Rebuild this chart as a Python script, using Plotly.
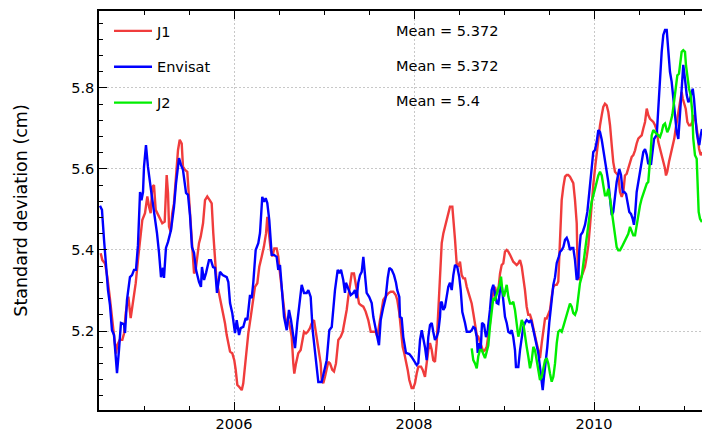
import plotly.graph_objects as go

# ---------------- data (decimal year, std dev in cm) ----------------
t_j1 = [2004.519,2004.537,2004.567,2004.592,2004.619,2004.641,2004.663,2004.689,2004.703,2004.730,2004.759,2004.778,2004.797,2004.826,2004.852,2004.870,2004.889,2004.908,2004.937,2004.963,2004.981,2005.011,2005.037,2005.056,2005.074,2005.092,2005.111,2005.130,2005.148,2005.174,2005.203,2005.230,2005.252,2005.267,2005.278,2005.297,2005.314,2005.333,2005.359,2005.378,2005.397,2005.419,2005.433,2005.456,2005.481,2005.500,2005.519,2005.537,2005.556,2005.574,2005.592,2005.611,2005.630,2005.656,2005.678,2005.703,2005.730,2005.752,2005.770,2005.789,2005.803,2005.826,2005.844,2005.863,2005.881,2005.900,2005.919,2005.937,2005.956,2005.981,2006.003,2006.019,2006.037,2006.059,2006.086,2006.103,2006.122,2006.141,2006.159,2006.186,2006.214,2006.233,2006.259,2006.281,2006.308,2006.333,2006.356,2006.370,2006.392,2006.408,2006.426,2006.448,2006.474,2006.492,2006.511,2006.530,2006.548,2006.567,2006.586,2006.603,2006.622,2006.641,2006.659,2006.670,2006.689,2006.714,2006.741,2006.763,2006.778,2006.800,2006.819,2006.844,2006.863,2006.889,2006.908,2006.926,2006.944,2006.963,2006.974,2006.992,2007.011,2007.030,2007.048,2007.067,2007.092,2007.111,2007.133,2007.159,2007.186,2007.208,2007.233,2007.252,2007.270,2007.289,2007.308,2007.333,2007.352,2007.370,2007.389,2007.408,2007.437,2007.463,2007.492,2007.519,2007.548,2007.574,2007.592,2007.614,2007.641,2007.659,2007.686,2007.714,2007.741,2007.770,2007.797,2007.814,2007.837,2007.856,2007.874,2007.892,2007.911,2007.930,2007.948,2007.974,2007.992,2008.011,2008.030,2008.048,2008.078,2008.097,2008.122,2008.141,2008.159,2008.178,2008.197,2008.214,2008.233,2008.252,2008.270,2008.289,2008.308,2008.326,2008.344,2008.363,2008.381,2008.400,2008.426,2008.437,2008.456,2008.474,2008.492,2008.511,2008.530,2008.548,2008.567,2008.586,2008.603,2008.622,2008.641,2008.659,2008.678,2008.697,2008.714,2008.733,2008.752,2008.770,2008.789,2008.808,2008.826,2008.844,2008.863,2008.881,2008.900,2008.919,2008.937,2008.956,2008.974,2008.992,2009.011,2009.030,2009.048,2009.067,2009.086,2009.103,2009.122,2009.141,2009.159,2009.178,2009.197,2009.214,2009.233,2009.252,2009.270,2009.289,2009.308,2009.326,2009.344,2009.363,2009.381,2009.400,2009.419,2009.437,2009.456,2009.474,2009.492,2009.511,2009.530,2009.548,2009.567,2009.586,2009.603,2009.622,2009.641,2009.659,2009.678,2009.697,2009.714,2009.733,2009.752,2009.770,2009.789,2009.808,2009.814,2009.826,2009.837,2009.852,2009.874,2009.900,2009.919,2009.937,2009.956,2009.974,2009.992,2010.011,2010.030,2010.048,2010.067,2010.086,2010.103,2010.122,2010.141,2010.159,2010.178,2010.197,2010.214,2010.233,2010.252,2010.270,2010.289,2010.308,2010.326,2010.344,2010.363,2010.381,2010.400,2010.419,2010.437,2010.456,2010.474,2010.492,2010.511,2010.530,2010.548,2010.567,2010.586,2010.603,2010.622,2010.641,2010.659,2010.678,2010.697,2010.714,2010.733,2010.752,2010.770,2010.789,2010.800,2010.814,2010.833,2010.852,2010.874,2010.892,2010.908,2010.926,2010.944,2010.963,2010.974,2010.986,2011.000,2011.019,2011.037,2011.056,2011.074,2011.092,2011.111,2011.130,2011.148,2011.167,2011.186,2011.200]
v_j1 = [5.392,5.375,5.367,5.334,5.285,5.235,5.194,5.144,5.165,5.178,5.178,5.194,5.244,5.285,5.232,5.260,5.285,5.318,5.384,5.441,5.474,5.491,5.532,5.507,5.491,5.556,5.560,5.499,5.491,5.483,5.466,5.470,5.585,5.540,5.458,5.445,5.491,5.515,5.589,5.647,5.672,5.663,5.606,5.598,5.593,5.523,5.458,5.400,5.342,5.351,5.384,5.417,5.433,5.466,5.523,5.532,5.523,5.515,5.441,5.375,5.334,5.301,5.281,5.269,5.244,5.219,5.190,5.170,5.149,5.145,5.128,5.104,5.067,5.062,5.054,5.071,5.112,5.161,5.194,5.235,5.285,5.309,5.318,5.359,5.384,5.409,5.441,5.482,5.433,5.400,5.384,5.404,5.404,5.384,5.342,5.301,5.268,5.235,5.219,5.227,5.210,5.186,5.120,5.095,5.120,5.145,5.153,5.178,5.198,5.194,5.198,5.207,5.219,5.227,5.202,5.178,5.153,5.120,5.079,5.071,5.087,5.104,5.124,5.120,5.104,5.100,5.120,5.178,5.186,5.198,5.227,5.252,5.285,5.318,5.342,5.342,5.318,5.293,5.268,5.264,5.260,5.248,5.227,5.198,5.198,5.198,5.186,5.219,5.252,5.277,5.285,5.293,5.297,5.297,5.289,5.277,5.244,5.202,5.161,5.145,5.128,5.104,5.079,5.059,5.059,5.071,5.095,5.112,5.112,5.104,5.087,5.120,5.153,5.170,5.153,5.128,5.124,5.170,5.260,5.342,5.417,5.441,5.458,5.470,5.491,5.507,5.507,5.466,5.425,5.367,5.359,5.371,5.338,5.330,5.330,5.309,5.297,5.285,5.268,5.244,5.211,5.190,5.186,5.170,5.161,5.149,5.153,5.161,5.186,5.219,5.277,5.293,5.309,5.293,5.301,5.342,5.363,5.367,5.396,5.400,5.396,5.388,5.380,5.371,5.367,5.363,5.367,5.375,5.359,5.334,5.301,5.260,5.240,5.240,5.227,5.207,5.186,5.170,5.153,5.133,5.170,5.202,5.231,5.231,5.240,5.252,5.285,5.309,5.314,5.314,5.322,5.441,5.523,5.556,5.581,5.585,5.585,5.581,5.573,5.565,5.523,5.466,5.400,5.334,5.326,5.330,5.342,5.359,5.383,5.412,5.461,5.519,5.560,5.601,5.642,5.675,5.708,5.733,5.753,5.761,5.757,5.741,5.708,5.659,5.617,5.593,5.588,5.584,5.543,5.531,5.543,5.584,5.588,5.601,5.617,5.630,5.634,5.646,5.663,5.675,5.679,5.683,5.700,5.716,5.749,5.733,5.724,5.720,5.716,5.708,5.696,5.667,5.650,5.638,5.617,5.601,5.584,5.593,5.617,5.634,5.659,5.675,5.700,5.724,5.749,5.774,5.790,5.774,5.765,5.749,5.716,5.708,5.708,5.716,5.733,5.716,5.691,5.650,5.634,5.642]

t_env = [2004.511,2004.533,2004.556,2004.578,2004.600,2004.622,2004.644,2004.667,2004.683,2004.700,2004.722,2004.744,2004.778,2004.789,2004.811,2004.844,2004.867,2004.889,2004.911,2004.933,2004.956,2004.972,2004.989,2005.000,2005.022,2005.044,2005.078,2005.111,2005.144,2005.167,2005.189,2005.211,2005.222,2005.244,2005.267,2005.300,2005.333,2005.356,2005.389,2005.411,2005.433,2005.467,2005.489,2005.511,2005.533,2005.556,2005.578,2005.611,2005.633,2005.644,2005.667,2005.689,2005.722,2005.744,2005.767,2005.789,2005.811,2005.844,2005.874,2005.919,2005.937,2005.956,2005.981,2006.011,2006.030,2006.056,2006.074,2006.103,2006.130,2006.148,2006.178,2006.197,2006.214,2006.241,2006.270,2006.289,2006.314,2006.333,2006.352,2006.370,2006.392,2006.419,2006.444,2006.474,2006.492,2006.511,2006.530,2006.556,2006.586,2006.611,2006.633,2006.659,2006.678,2006.703,2006.733,2006.752,2006.778,2006.808,2006.826,2006.852,2006.874,2006.900,2006.937,2006.974,2007.000,2007.030,2007.059,2007.086,2007.122,2007.152,2007.170,2007.189,2007.214,2007.233,2007.244,2007.270,2007.297,2007.326,2007.344,2007.363,2007.381,2007.400,2007.419,2007.437,2007.456,2007.474,2007.503,2007.530,2007.548,2007.574,2007.592,2007.611,2007.630,2007.659,2007.686,2007.708,2007.726,2007.752,2007.778,2007.800,2007.814,2007.837,2007.844,2007.863,2007.881,2007.911,2007.948,2007.974,2008.000,2008.030,2008.048,2008.067,2008.086,2008.103,2008.122,2008.141,2008.159,2008.178,2008.197,2008.214,2008.233,2008.252,2008.270,2008.289,2008.297,2008.308,2008.326,2008.344,2008.363,2008.381,2008.400,2008.419,2008.437,2008.456,2008.481,2008.503,2008.519,2008.537,2008.567,2008.586,2008.622,2008.641,2008.659,2008.678,2008.697,2008.708,2008.726,2008.741,2008.756,2008.778,2008.800,2008.819,2008.844,2008.863,2008.881,2008.900,2008.919,2008.937,2008.956,2008.974,2008.992,2009.011,2009.030,2009.048,2009.067,2009.086,2009.103,2009.122,2009.133,2009.159,2009.178,2009.197,2009.214,2009.233,2009.252,2009.278,2009.300,2009.319,2009.344,2009.363,2009.381,2009.400,2009.419,2009.430,2009.444,2009.467,2009.481,2009.503,2009.519,2009.533,2009.548,2009.567,2009.586,2009.608,2009.622,2009.641,2009.659,2009.678,2009.697,2009.714,2009.733,2009.752,2009.770,2009.789,2009.808,2009.826,2009.837,2009.852,2009.874,2009.900,2009.926,2009.948,2009.974,2009.992,2010.011,2010.030,2010.048,2010.067,2010.086,2010.103,2010.122,2010.141,2010.159,2010.178,2010.197,2010.214,2010.233,2010.252,2010.281,2010.300,2010.319,2010.337,2010.356,2010.374,2010.392,2010.411,2010.430,2010.444,2010.456,2010.474,2010.492,2010.511,2010.530,2010.548,2010.567,2010.586,2010.603,2010.622,2010.633,2010.652,2010.667,2010.697,2010.714,2010.733,2010.752,2010.770,2010.789,2010.808,2010.826,2010.844,2010.863,2010.881,2010.900,2010.919,2010.937,2010.956,2010.974,2010.992,2011.011,2011.030,2011.048,2011.067,2011.086,2011.097,2011.111,2011.122,2011.141,2011.159,2011.170,2011.186,2011.200]
v_env = [5.509,5.499,5.425,5.363,5.301,5.264,5.202,5.190,5.141,5.096,5.153,5.220,5.217,5.195,5.277,5.333,5.338,5.351,5.351,5.412,5.543,5.523,5.543,5.605,5.659,5.605,5.548,5.499,5.442,5.393,5.333,5.356,5.331,5.405,5.420,5.449,5.506,5.565,5.627,5.610,5.598,5.541,5.536,5.486,5.407,5.393,5.351,5.321,5.309,5.358,5.326,5.343,5.375,5.375,5.358,5.356,5.294,5.346,5.338,5.333,5.321,5.269,5.244,5.195,5.227,5.190,5.207,5.210,5.232,5.227,5.289,5.281,5.319,5.400,5.417,5.442,5.531,5.519,5.528,5.516,5.474,5.388,5.388,5.383,5.351,5.363,5.309,5.235,5.202,5.252,5.227,5.178,5.158,5.220,5.277,5.314,5.294,5.294,5.301,5.284,5.202,5.153,5.074,5.074,5.096,5.128,5.202,5.210,5.301,5.351,5.343,5.351,5.326,5.294,5.319,5.306,5.289,5.294,5.301,5.281,5.319,5.338,5.346,5.383,5.331,5.294,5.284,5.269,5.235,5.210,5.185,5.165,5.227,5.259,5.284,5.331,5.356,5.351,5.338,5.319,5.301,5.284,5.235,5.232,5.185,5.146,5.143,5.136,5.128,5.116,5.121,5.178,5.202,5.185,5.160,5.128,5.185,5.215,5.220,5.198,5.178,5.185,5.198,5.235,5.269,5.272,5.252,5.259,5.284,5.309,5.319,5.301,5.338,5.363,5.358,5.333,5.301,5.247,5.220,5.198,5.198,5.202,5.210,5.207,5.185,5.146,5.170,5.153,5.220,5.215,5.185,5.202,5.252,5.301,5.314,5.294,5.269,5.267,5.301,5.314,5.269,5.235,5.220,5.198,5.195,5.202,5.185,5.153,5.111,5.111,5.153,5.185,5.210,5.220,5.227,5.222,5.227,5.210,5.185,5.170,5.146,5.111,5.072,5.054,5.086,5.128,5.160,5.220,5.259,5.294,5.314,5.333,5.368,5.383,5.395,5.400,5.407,5.425,5.430,5.420,5.400,5.405,5.405,5.375,5.326,5.333,5.400,5.437,5.444,5.462,5.494,5.543,5.610,5.642,5.647,5.667,5.696,5.691,5.672,5.649,5.625,5.600,5.568,5.526,5.486,5.494,5.526,5.568,5.600,5.585,5.543,5.543,5.538,5.519,5.494,5.489,5.477,5.462,5.486,5.543,5.568,5.593,5.617,5.642,5.649,5.635,5.612,5.617,5.610,5.649,5.674,5.684,5.758,5.840,5.889,5.931,5.943,5.943,5.889,5.840,5.815,5.773,5.733,5.691,5.674,5.733,5.790,5.857,5.822,5.783,5.765,5.773,5.790,5.798,5.773,5.741,5.691,5.667,5.659,5.684,5.699]

t_j2 = [2008.641,2008.659,2008.678,2008.697,2008.714,2008.733,2008.752,2008.770,2008.789,2008.808,2008.826,2008.844,2008.863,2008.881,2008.900,2008.919,2008.937,2008.956,2008.967,2008.981,2009.000,2009.019,2009.030,2009.048,2009.067,2009.086,2009.103,2009.122,2009.141,2009.159,2009.178,2009.197,2009.214,2009.233,2009.252,2009.270,2009.289,2009.308,2009.326,2009.344,2009.363,2009.381,2009.400,2009.419,2009.437,2009.456,2009.474,2009.492,2009.511,2009.530,2009.548,2009.567,2009.586,2009.603,2009.622,2009.641,2009.659,2009.678,2009.697,2009.714,2009.733,2009.752,2009.770,2009.789,2009.808,2009.826,2009.844,2009.863,2009.881,2009.900,2009.919,2009.937,2009.956,2009.974,2009.992,2010.011,2010.030,2010.048,2010.067,2010.086,2010.103,2010.122,2010.141,2010.159,2010.178,2010.197,2010.214,2010.233,2010.252,2010.270,2010.289,2010.308,2010.326,2010.344,2010.363,2010.381,2010.400,2010.419,2010.437,2010.456,2010.474,2010.492,2010.511,2010.530,2010.548,2010.567,2010.586,2010.603,2010.614,2010.630,2010.641,2010.659,2010.678,2010.697,2010.714,2010.733,2010.752,2010.770,2010.789,2010.800,2010.814,2010.833,2010.852,2010.870,2010.889,2010.908,2010.926,2010.944,2010.963,2010.974,2010.992,2011.011,2011.022,2011.037,2011.056,2011.074,2011.092,2011.103,2011.122,2011.141,2011.152,2011.163,2011.178,2011.200]
v_j2 = [5.157,5.128,5.120,5.108,5.137,5.153,5.153,5.141,5.133,5.149,5.165,5.211,5.252,5.281,5.277,5.293,5.301,5.318,5.334,5.301,5.285,5.309,5.314,5.285,5.268,5.268,5.272,5.252,5.219,5.186,5.202,5.227,5.219,5.186,5.161,5.137,5.108,5.128,5.161,5.153,5.128,5.104,5.079,5.087,5.112,5.128,5.133,5.120,5.095,5.075,5.087,5.120,5.170,5.198,5.202,5.198,5.211,5.227,5.244,5.256,5.268,5.260,5.244,5.240,5.252,5.285,5.318,5.334,5.367,5.395,5.428,5.461,5.494,5.519,5.539,5.551,5.568,5.584,5.593,5.584,5.560,5.535,5.535,5.551,5.527,5.494,5.461,5.428,5.407,5.399,5.399,5.407,5.415,5.420,5.428,5.440,5.457,5.444,5.436,5.436,5.461,5.494,5.510,5.527,5.539,5.551,5.564,5.568,5.593,5.642,5.683,5.696,5.691,5.687,5.683,5.679,5.691,5.708,5.712,5.700,5.691,5.700,5.716,5.733,5.765,5.798,5.831,5.835,5.864,5.889,5.893,5.889,5.856,5.823,5.798,5.782,5.741,5.675,5.634,5.625,5.576,5.494,5.477,5.469]

series_names = ["J1", "Envisat", "J2"]
series_means = ["5.372", "5.372", "5.4"]
series_colors = ["#f03c3c", "#0000ff", "#00ee00"]
x_ticks = [2006, 2008, 2010]
y_ticks = [5.2, 5.4, 5.6, 5.8]

FONT = "DejaVu Sans"

fig = go.Figure()
for name, t, v, col in zip(series_names, [t_j1, t_env, t_j2], [v_j1, v_env, v_j2], series_colors):
    fig.add_trace(go.Scatter(x=t, y=v, mode="lines", name=name, legendgroup=name,
                             line=dict(color=col, width=2.4)))

# "Mean = ..." labels aligned with legend rows
mean_y = [5.941, 5.854, 5.768]
for m, yy in zip(series_means, mean_y):
    fig.add_annotation(x=2007.778, y=yy, xref="x", yref="y", text=f"Mean = {m}",
                       showarrow=False, xanchor="left", yanchor="middle",
                       font=dict(family=FONT, size=14.5, color="black"))

fig.update_layout(
    width=702, height=437,
    margin=dict(l=99, r=0, t=11, b=27, autoexpand=False),
    paper_bgcolor="white", plot_bgcolor="white",
    font=dict(family=FONT, size=14.5, color="black"),
    showlegend=True,
    legend=dict(x=0.0166, y=0.99, xanchor="left", yanchor="top",
                bgcolor="rgba(0,0,0,0)", borderwidth=0,
                font=dict(family=FONT, size=14.5), tracegroupgap=14,
                itemwidth=38),
    xaxis=dict(range=[2004.5, 2011.2], tickmode="array", tickvals=x_ticks,
               ticktext=[str(v) for v in x_ticks], automargin=False,
               ticks="inside", ticklen=8, tickwidth=1.2, tickcolor="black",
               showline=True, linecolor="black", linewidth=1.5, mirror="ticks",
               showgrid=True, gridcolor="#c8c8c8", gridwidth=1, griddash="2px,2px",
               zeroline=False,
               minor=dict(dtick=0.5, tick0=2004.5, ticks="inside", ticklen=4.5,
                          tickwidth=1, tickcolor="black", showgrid=False),
               tickfont=dict(family=FONT, size=14.5)),
    yaxis=dict(range=[5.005, 5.990], tickmode="array", tickvals=y_ticks,
               ticktext=[f"{v:.1f}" for v in y_ticks], automargin=False,
               ticks="inside", ticklen=8, tickwidth=1.2, tickcolor="black",
               showline=True, linecolor="black", linewidth=1.5,
               showgrid=True, gridcolor="#c8c8c8", gridwidth=1, griddash="2px,2px",
               zeroline=False,
               minor=dict(dtick=0.04, tick0=5.0, ticks="inside", ticklen=4.5,
                          tickwidth=1, tickcolor="black", showgrid=False),
               title=dict(text="Standard deviation (cm)", font=dict(family=FONT, size=17.5),
                          standoff=39),
               tickfont=dict(family=FONT, size=14.5)),
    yaxis2=dict(range=[5.005, 5.990], overlaying="y", side="right", tickmode="array",
                tickvals=y_ticks, showticklabels=False, ticks="inside", ticklen=3,
                tickwidth=1.2, tickcolor="black", showline=False, showgrid=False,
                zeroline=False, automargin=False),
)

fig.write_html("out.html", config={"displayModeBar": False},
               post_script="document.body.style.margin='0';document.body.style.overflow='hidden';")
